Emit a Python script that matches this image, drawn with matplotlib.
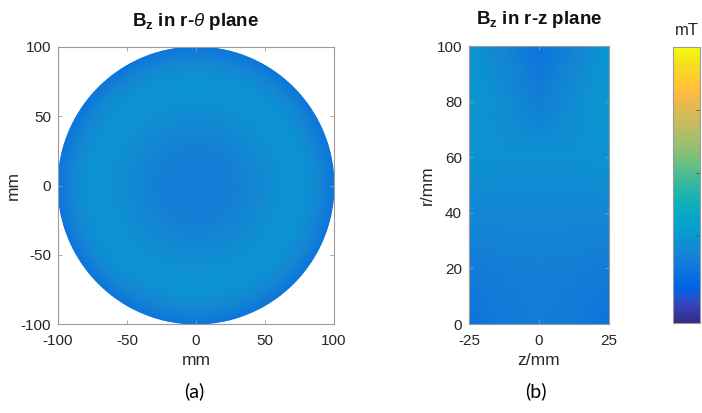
import numpy as np
import matplotlib
matplotlib.use("Agg")
import matplotlib.pyplot as plt
from matplotlib.colors import LinearSegmentedColormap

plt.rcParams['font.family'] = ['Liberation Sans', 'DejaVu Sans']
plt.rcParams['mathtext.fontset'] = 'custom'
plt.rcParams['mathtext.rm'] = 'Liberation Sans'
plt.rcParams['mathtext.bf'] = 'Liberation Sans:bold'
plt.rcParams['mathtext.it'] = 'Liberation Sans:italic'
plt.rcParams['axes.unicode_minus'] = False

# ---------------- data (mT) ----------------
# r-theta plane: radial profile of Bz (field is rotationally symmetric)
r_profile_mm = [0, 10, 20, 30, 40, 50, 60, 70, 80, 90, 100]
bz_profile = [1.60, 1.61, 1.64, 1.69, 1.76, 1.84, 1.91, 1.94, 1.91, 1.76, 1.46]

# r-z plane grid
z_grid_mm = [-25, -12.5, 0, 12.5, 25]
r_grid_mm = [0, 20, 40, 60, 80, 100]
bz_rz = [  # rows: r, cols: z
    [1.45, 1.56, 1.62, 1.56, 1.45],
    [1.58, 1.64, 1.66, 1.64, 1.58],
    [1.77, 1.76, 1.76, 1.76, 1.77],
    [1.94, 1.92, 1.91, 1.92, 1.94],
    [2.02, 1.86, 1.62, 1.86, 2.02],
    [2.00, 1.72, 1.43, 1.72, 2.00],
]

clim = (0.62, 5.0)
cbar_ticks = [1, 2, 3, 4]

xticks_a = [-100, -50, 0, 50, 100]
yticks_a = [-100, -50, 0, 50, 100]
xticks_b = [-25, 0, 25]
yticks_b = [0, 20, 40, 60, 80, 100]

# parula colormap
_parula = [[0.2081, 0.1663, 0.5292], [0.2116, 0.1898, 0.5777], [0.2123, 0.2138, 0.6270],
           [0.2081, 0.2386, 0.6771], [0.1959, 0.2645, 0.7279], [0.1707, 0.2919, 0.7792],
           [0.1253, 0.3242, 0.8303], [0.0591, 0.3598, 0.8683], [0.0117, 0.3875, 0.8820],
           [0.0060, 0.4086, 0.8828], [0.0165, 0.4266, 0.8786], [0.0329, 0.4430, 0.8720],
           [0.0498, 0.4586, 0.8641], [0.0629, 0.4737, 0.8554], [0.0723, 0.4887, 0.8467],
           [0.0779, 0.5040, 0.8384], [0.0793, 0.5200, 0.8312], [0.0749, 0.5375, 0.8263],
           [0.0641, 0.5570, 0.8240], [0.0488, 0.5772, 0.8228], [0.0343, 0.5966, 0.8199],
           [0.0265, 0.6137, 0.8135], [0.0239, 0.6287, 0.8038], [0.0231, 0.6418, 0.7913],
           [0.0228, 0.6535, 0.7768], [0.0267, 0.6642, 0.7607], [0.0384, 0.6743, 0.7436],
           [0.0590, 0.6838, 0.7254], [0.0843, 0.6928, 0.7062], [0.1133, 0.7015, 0.6859],
           [0.1453, 0.7098, 0.6646], [0.1801, 0.7177, 0.6424], [0.2178, 0.7250, 0.6193],
           [0.2586, 0.7317, 0.5954], [0.3022, 0.7376, 0.5712], [0.3482, 0.7424, 0.5473],
           [0.3953, 0.7459, 0.5244], [0.4420, 0.7481, 0.5033], [0.4871, 0.7491, 0.4840],
           [0.5300, 0.7491, 0.4661], [0.5709, 0.7485, 0.4494], [0.6099, 0.7473, 0.4337],
           [0.6473, 0.7456, 0.4188], [0.6834, 0.7435, 0.4044], [0.7184, 0.7411, 0.3905],
           [0.7525, 0.7384, 0.3768], [0.7858, 0.7356, 0.3633], [0.8185, 0.7327, 0.3498],
           [0.8507, 0.7299, 0.3360], [0.8824, 0.7274, 0.3217], [0.9139, 0.7258, 0.3063],
           [0.9450, 0.7261, 0.2886], [0.9739, 0.7314, 0.2666], [0.9938, 0.7455, 0.2403],
           [0.9990, 0.7653, 0.2164], [0.9955, 0.7861, 0.1967], [0.9880, 0.8066, 0.1794],
           [0.9789, 0.8271, 0.1633], [0.9697, 0.8481, 0.1475], [0.9626, 0.8705, 0.1309],
           [0.9589, 0.8949, 0.1132], [0.9598, 0.9218, 0.0948], [0.9661, 0.9514, 0.0755],
           [0.9763, 0.9831, 0.0538]]
parula = LinearSegmentedColormap.from_list('parula', _parula)

FRAME = '#9a9a9a'
TXT = '#262626'
W, H = 702, 413

fig = plt.figure(figsize=(7.02, 4.13), dpi=100)

def style(ax):
    for s in ax.spines.values():
        s.set_color(FRAME)
        s.set_linewidth(0.8)
    ax.tick_params(direction='in', top=True, right=True, length=3,
                   width=0.6, color=FRAME, labelsize=11, labelcolor=TXT)
    ax.tick_params(axis='y', pad=5)
    ax.tick_params(axis='x', pad=7)

# (a) r-theta plane
ax1 = fig.add_axes([58/W, 1-324/H, 276/W, 277/H])
theta = np.linspace(0, 2*np.pi, 241)
R, T = np.meshgrid(np.array(r_profile_mm, float), theta)
C = np.tile(np.array(bz_profile), (len(theta), 1))
m = ax1.pcolormesh(R*np.cos(T), R*np.sin(T), C, shading='gouraud',
                   cmap=parula, vmin=clim[0], vmax=clim[1])
ax1.set_xlim(-100, 100)
ax1.set_ylim(-100, 100)
ax1.set_xticks(xticks_a)
ax1.set_yticks(yticks_a)
style(ax1)
ax1.set_xlabel('mm', fontsize=12.5, color=TXT)
ax1.set_ylabel('mm', fontsize=12.5, color=TXT)
ax1.xaxis.set_label_coords(0.5, -(353-324)/277)
ax1.yaxis.set_label_coords(-(58-21)/276, 0.5)
ax1.set_title(r'$\mathbf{B_z}$ in r-$\theta$ plane', fontsize=13.5, fontweight='bold',
              color='#111111', pad=15)

# (b) r-z plane
ax2 = fig.add_axes([469/W, 1-324/H, 140/W, 278/H])
Z, Rg = np.meshgrid(np.array(z_grid_mm, float), np.array(r_grid_mm, float))
ax2.pcolormesh(Z, Rg, np.array(bz_rz), shading='gouraud',
               cmap=parula, vmin=clim[0], vmax=clim[1])
ax2.set_xlim(-25, 25)
ax2.set_ylim(0, 100)
ax2.set_xticks(xticks_b)
ax2.set_yticks(yticks_b)
style(ax2)
ax2.set_xlabel('z/mm', fontsize=12.5, color=TXT)
ax2.set_ylabel('r/mm', fontsize=12.5, color=TXT)
ax2.xaxis.set_label_coords(0.5, -(353-324)/278)
ax2.yaxis.set_label_coords(-(469-435)/140, 0.5)
ax2.set_title(r'$\mathbf{B_z}$ in r-z plane', fontsize=13.5, fontweight='bold',
              color='#111111', pad=16)

# colorbar
cax = fig.add_axes([673/W, 1-323/H, 27/W, 276/H])
cb = fig.colorbar(m, cax=cax, ticks=cbar_ticks)
cb.ax.set_yticklabels([])
cb.outline.set_edgecolor(FRAME)
cb.outline.set_linewidth(0.8)
cb.ax.tick_params(direction='in', length=3, width=0.6, color='#555555')
fig.text(675/W, 1-35/H, 'mT', fontsize=12, color=TXT, ha='left', va='baseline')

# panel labels
fig.text(194/W, 1-391/H, '(a)', fontsize=14, family=['Lato', 'DejaVu Sans'],
         ha='center', va='center', color='black')
fig.text(536/W, 1-391/H, '(b)', fontsize=14, family=['Lato', 'DejaVu Sans'],
         ha='center', va='center', color='black')

fig.savefig('out.png', dpi=100)
